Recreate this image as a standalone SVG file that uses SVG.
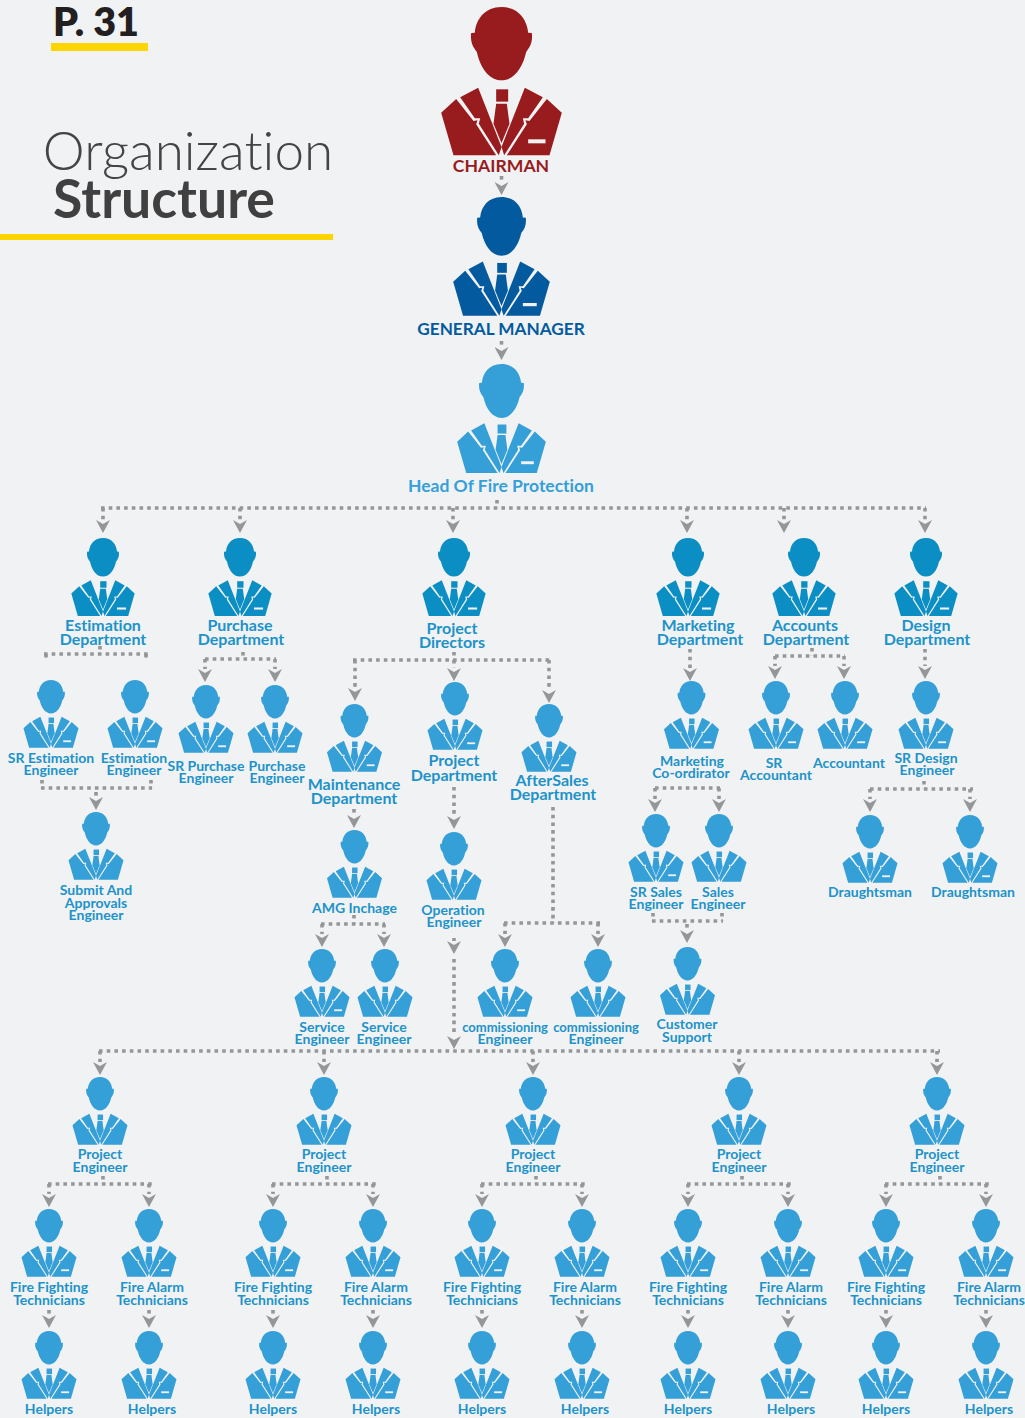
<svg xmlns="http://www.w3.org/2000/svg" width="1025" height="1418" viewBox="0 0 1025 1418">
<style>
text{font-family:"Lato","Liberation Sans",sans-serif;text-anchor:middle;font-weight:700;font-variant-ligatures:none}
.a{fill:#359fd8}.d{fill:#0a8ec3}
.l{fill:#1c93c9;font-size:14px}
.m{fill:#1c93c9;font-size:16px}
.k{font-size:13px}
.c path{fill:none;stroke:#969696;stroke-width:3.6;stroke-dasharray:3.6 4.1;marker-end:url(#ar)}
.c path.n{marker-end:none}
</style>
<defs>
<marker id="ar" markerUnits="userSpaceOnUse" viewBox="-7 0 14 14" refX="0" refY="0" markerWidth="14" markerHeight="14" orient="0"><path d="M-7 0L0 4L7 0L0 13Z" fill="#969696"/></marker>
<g id="q" transform="translate(-244,-20)">
<path d="M244 20C195 20 168 55 164 97L153 98C150 125 158 140 170 155C180 200 205 240 244 240C283 240 308 200 318 155C330 140 338 125 335 98L324 97C320 55 293 20 244 20Z"/>
<path d="M63 337L108 296L160 362L172 360L168 372L228 465L100 465Z"/>
<path d="M425 337L380 296L328 362L316 360L320 372L260 465L388 465Z"/>
<path d="M120 291L174 262L244 440L236 465L176 370L180 354L164 354Z"/>
<path d="M368 291L314 262L244 440L252 465L312 370L308 354L324 354Z"/>
<rect x="228" y="267" width="36" height="37"/>
<path d="M228 310L260 310L268 370L244 428L220 370Z"/>
</g>
<g id="p"><use href="#q"/><rect x="80" y="397" width="52" height="12" fill="#f1f2f4"/></g>
</defs>
<rect width="1025" height="1418" fill="#f1f2f4"/>
<g id="header">
<text x="96" y="36" style="font-size:39.5px;font-weight:800;fill:#231f20">P. 31</text>
<rect x="51" y="43" width="97" height="8" fill="#ffd500"/>
<text x="188" y="170" style="font-size:53px;font-weight:300;fill:#444">Organization</text>
<text x="164" y="218" style="font-size:53.5px;font-weight:700;fill:#404040">Structure</text>
<rect x="0" y="234" width="333" height="6" fill="#ffd500"/>
</g>
<g id="connectors" class="c">
<path d="M501.5 176V182"/><path d="M501.5 341V347"/>
<path class="n" d="M497 500V508"/><path class="n" d="M101 508H926"/>
<path d="M103 508V520"/><path d="M240 508V520"/><path d="M453 508V520"/><path d="M687 508V520"/><path d="M784 508V520"/><path d="M925 508V520"/>
<path class="n" d="M100 646V654"/><path class="n" d="M44 654H148"/><path class="n" d="M46 654V661"/><path class="n" d="M146 654V661"/>
<path class="n" d="M243 652V659"/><path class="n" d="M205 659H276"/><path d="M205 659V669"/><path d="M275 659V669"/>
<path class="n" d="M454 652V660"/><path class="n" d="M353 660H551"/><path d="M355 660V688"/><path d="M454 660V668"/><path d="M549 660V690"/>
<path d="M690 649V668"/>
<path class="n" d="M812 648V656"/><path class="n" d="M775 656H845"/><path d="M775 656V666"/><path d="M844 656V666"/>
<path d="M925 649V666"/>
<path class="n" d="M42 780V788"/><path class="n" d="M151 780V788"/><path class="n" d="M41 788H152"/><path d="M96 792V797"/>
<path class="n" d="M924 781V789"/><path class="n" d="M870 789H973"/><path d="M870 789V799"/><path d="M970 789V799"/>
<path class="n" d="M655 788H720"/><path d="M655 788V799"/><path d="M719 788V799"/>
<path d="M354 809V815"/><path d="M454 787V816"/>
<path class="n" d="M354 915V924"/><path class="n" d="M321 924H385"/><path d="M322 924V934"/><path d="M384 924V934"/>
<path class="n" d="M553 807V923"/><path class="n" d="M504 923H600"/><path d="M505 923V934"/><path d="M598 923V934"/>
<path class="n" d="M653 913V921"/><path class="n" d="M722 913V921"/><path class="n" d="M652 921H723"/><path d="M687 924V930"/>
<path d="M454 938V941"/><path d="M454 959V1036"/>
<path class="n" d="M99 1051H940"/>
<path d="M100 1051V1062"/><path d="M324 1051V1062"/><path d="M533 1051V1062"/><path d="M739 1051V1062"/><path d="M937 1051V1062"/>
<path class="n" d="M103 1176V1184"/><path class="n" d="M48 1184H152"/><path d="M49 1184V1194"/><path d="M149 1184V1194"/>
<path class="n" d="M327 1176V1184"/><path class="n" d="M272 1184H376"/><path d="M273 1184V1194"/><path d="M373 1184V1194"/>
<path class="n" d="M536 1176V1184"/><path class="n" d="M481 1184H585"/><path d="M482 1184V1194"/><path d="M582 1184V1194"/>
<path class="n" d="M742 1176V1184"/><path class="n" d="M687 1184H791"/><path d="M688 1184V1194"/><path d="M788 1184V1194"/>
<path class="n" d="M940 1176V1184"/><path class="n" d="M885 1184H989"/><path d="M886 1184V1194"/><path d="M986 1184V1194"/>
<path d="M49 1310V1315"/><path d="M149 1310V1315"/><path d="M273 1310V1315"/><path d="M373 1310V1315"/><path d="M482 1310V1315"/><path d="M582 1310V1315"/><path d="M688 1310V1315"/><path d="M788 1310V1315"/><path d="M886 1310V1315"/><path d="M986 1310V1315"/>
</g>
<g id="chairman"><use href="#p" transform="translate(501.5,7) scale(.3333)" fill="#981b1e"/><text x="501" y="172" style="font-size:17.6px;fill:#981b1e">CHAIRMAN</text></g>
<g id="general-manager"><use href="#p" transform="translate(501.5,197) scale(.267)" fill="#045a9e"/><text x="501" y="335" style="font-size:17.2px;fill:#045a9e">GENERAL MANAGER</text></g>
<g id="head-fire"><use href="#p" transform="translate(501.5,364) scale(.245)" fill="#359fd8"/><text x="501" y="492" style="font-size:17.5px;fill:#359fd8">Head Of Fire Protection</text></g>

<g id="n-estimation"><use href="#p" class="d" transform="translate(103,538) scale(.175)"/><text class="m" y="631" x="103">Estimation<tspan x="103" y="645">Department</tspan></text></g>
<g id="n-purchase"><use href="#p" class="d" transform="translate(240,538) scale(.175)"/><text class="m" y="631" x="240">Purchase<tspan x="241" y="645">Department</tspan></text></g>
<g id="n-directors"><use href="#p" class="d" transform="translate(454,538) scale(.175)"/><text class="m" y="634" x="452">Project<tspan x="452" y="648">Directors</tspan></text></g>
<g id="n-marketing"><use href="#p" class="d" transform="translate(688,538) scale(.175)"/><text class="m" y="631" x="698">Marketing<tspan x="700" y="645">Department</tspan></text></g>
<g id="n-accounts"><use href="#p" class="d" transform="translate(804,538) scale(.175)"/><text class="m" y="631" x="805">Accounts<tspan x="806" y="645">Department</tspan></text></g>
<g id="n-design"><use href="#p" class="d" transform="translate(926,538) scale(.175)"/><text class="m" y="631" x="926">Design<tspan x="927" y="645">Department</tspan></text></g>

<g id="n-sr-est"><use href="#p" class="a" transform="translate(51,680) scale(.152)"/><text class="l" y="763" x="51">SR Estimation<tspan x="51" y="775">Engineer</tspan></text></g>
<g id="n-est"><use href="#p" class="a" transform="translate(135,680) scale(.152)"/><text class="l" y="763" x="134">Estimation<tspan x="134" y="775">Engineer</tspan></text></g>
<g id="n-submit"><use href="#q" class="a" transform="translate(96,812) scale(.152)"/><text class="l" y="895" x="96">Submit And<tspan x="96" y="908">Approvals</tspan><tspan x="96" y="920">Engineer</tspan></text></g>
<g id="n-sr-pur"><use href="#p" class="a" transform="translate(206,685) scale(.152)"/><text class="l" y="771" x="206">SR Purchase<tspan x="206" y="783">Engineer</tspan></text></g>
<g id="n-pur"><use href="#p" class="a" transform="translate(275,685) scale(.152)"/><text class="l" y="771" x="277">Purchase<tspan x="277" y="783">Engineer</tspan></text></g>
<g id="n-maint"><use href="#p" class="a" transform="translate(354.5,704) scale(.152)"/><text class="m" y="790" x="354">Maintenance<tspan x="354" y="804">Department</tspan></text></g>
<g id="n-projd"><use href="#p" class="a" transform="translate(455,682) scale(.152)"/><text class="m" y="766" x="454">Project<tspan x="454" y="781">Department</tspan></text></g>
<g id="n-after"><use href="#p" class="a" transform="translate(549,704) scale(.152)"/><text class="m" y="786" x="552">AfterSales<tspan x="553" y="800">Department</tspan></text></g>
<g id="n-mco"><use href="#p" class="a" transform="translate(691.5,681) scale(.152)"/><text class="l" y="766" x="692">Marketing<tspan x="691" y="778">Co-ordirator</tspan></text></g>
<g id="n-sracc"><use href="#p" class="a" transform="translate(776,681) scale(.152)"/><text class="l" y="768" x="774">SR<tspan x="776" y="780">Accountant</tspan></text></g>
<g id="n-acc"><use href="#p" class="a" transform="translate(845,681) scale(.152)"/><text class="l" y="768" x="849">Accountant</text></g>
<g id="n-srdes"><use href="#p" class="a" transform="translate(926,681) scale(.152)"/><text class="l" y="763" x="926">SR Design<tspan x="927" y="775">Engineer</tspan></text></g>
<g id="n-srsal"><use href="#p" class="a" transform="translate(656,814) scale(.152)"/><text class="l" y="897" x="656">SR Sales<tspan x="656" y="909">Engineer</tspan></text></g>
<g id="n-sal"><use href="#q" class="a" transform="translate(719,814) scale(.152)"/><text class="l" y="897" x="718">Sales<tspan x="718" y="909">Engineer</tspan></text></g>
<g id="n-dr1"><use href="#p" class="a" transform="translate(870,815) scale(.152)"/><text class="l" y="897" x="870">Draughtsman</text></g>
<g id="n-dr2"><use href="#p" class="a" transform="translate(970,815) scale(.152)"/><text class="l" y="897" x="973">Draughtsman</text></g>
<g id="n-amg"><use href="#q" class="a" transform="translate(354.5,830) scale(.152)"/><text class="l" y="913" x="354.5">AMG Inchage</text></g>
<g id="n-oper"><use href="#q" class="a" transform="translate(454,832) scale(.152)"/><text class="l" y="915" x="453">Operation<tspan x="454" y="927">Engineer</tspan></text></g>
<g id="n-serv1"><use href="#p" class="a" transform="translate(322,949) scale(.152)"/><text class="l" y="1032" x="322">Service<tspan x="322" y="1044">Engineer</tspan></text></g>
<g id="n-serv2"><use href="#q" class="a" transform="translate(385,949) scale(.152)"/><text class="l" y="1032" x="384">Service<tspan x="384" y="1044">Engineer</tspan></text></g>
<g id="n-com1"><use href="#p" class="a" transform="translate(505,949) scale(.152)"/><text class="l" y="1032" x="505"><tspan class="k">commissioning</tspan><tspan x="505" y="1044">Engineer</tspan></text></g>
<g id="n-com2"><use href="#q" class="a" transform="translate(598,949) scale(.152)"/><text class="l" y="1032" x="596"><tspan class="k">commissioning</tspan><tspan x="596" y="1044">Engineer</tspan></text></g>
<g id="n-cust"><use href="#q" class="a" transform="translate(687.5,947) scale(.152)"/><text class="l" y="1029" x="687">Customer<tspan x="687" y="1042">Support</tspan></text></g>

<g id="n-pe1"><use href="#q" class="a" transform="translate(100,1077) scale(.152)"/><text class="l" y="1159" x="100">Project<tspan x="100" y="1172">Engineer</tspan></text></g>
<g id="n-pe2"><use href="#q" class="a" transform="translate(324,1077) scale(.152)"/><text class="l" y="1159" x="324">Project<tspan x="324" y="1172">Engineer</tspan></text></g>
<g id="n-pe3"><use href="#q" class="a" transform="translate(533,1077) scale(.152)"/><text class="l" y="1159" x="533">Project<tspan x="533" y="1172">Engineer</tspan></text></g>
<g id="n-pe4"><use href="#q" class="a" transform="translate(739,1077) scale(.152)"/><text class="l" y="1159" x="739">Project<tspan x="739" y="1172">Engineer</tspan></text></g>
<g id="n-pe5"><use href="#q" class="a" transform="translate(937,1077) scale(.152)"/><text class="l" y="1159" x="937">Project<tspan x="937" y="1172">Engineer</tspan></text></g>

<g id="n-ff1"><use href="#p" class="a" transform="translate(49,1209) scale(.152)"/><text class="l" y="1292" x="49">Fire Fighting<tspan x="49" y="1305">Technicians</tspan></text></g>
<g id="n-fa1"><use href="#p" class="a" transform="translate(149,1209) scale(.152)"/><text class="l" y="1292" x="152">Fire Alarm<tspan x="152" y="1305">Technicians</tspan></text></g>
<g id="n-h1"><use href="#p" class="a" transform="translate(49,1331) scale(.152)"/><text class="l" y="1414" x="49">Helpers</text></g>
<g id="n-h2"><use href="#p" class="a" transform="translate(149,1331) scale(.152)"/><text class="l" y="1414" x="152">Helpers</text></g>
<g id="n-ff2"><use href="#p" class="a" transform="translate(273,1209) scale(.152)"/><text class="l" y="1292" x="273">Fire Fighting<tspan x="273" y="1305">Technicians</tspan></text></g>
<g id="n-fa2"><use href="#p" class="a" transform="translate(373,1209) scale(.152)"/><text class="l" y="1292" x="376">Fire Alarm<tspan x="376" y="1305">Technicians</tspan></text></g>
<g id="n-h3"><use href="#p" class="a" transform="translate(273,1331) scale(.152)"/><text class="l" y="1414" x="273">Helpers</text></g>
<g id="n-h4"><use href="#p" class="a" transform="translate(373,1331) scale(.152)"/><text class="l" y="1414" x="376">Helpers</text></g>
<g id="n-ff3"><use href="#p" class="a" transform="translate(482,1209) scale(.152)"/><text class="l" y="1292" x="482">Fire Fighting<tspan x="482" y="1305">Technicians</tspan></text></g>
<g id="n-fa3"><use href="#p" class="a" transform="translate(582,1209) scale(.152)"/><text class="l" y="1292" x="585">Fire Alarm<tspan x="585" y="1305">Technicians</tspan></text></g>
<g id="n-h5"><use href="#p" class="a" transform="translate(482,1331) scale(.152)"/><text class="l" y="1414" x="482">Helpers</text></g>
<g id="n-h6"><use href="#p" class="a" transform="translate(582,1331) scale(.152)"/><text class="l" y="1414" x="585">Helpers</text></g>
<g id="n-ff4"><use href="#p" class="a" transform="translate(688,1209) scale(.152)"/><text class="l" y="1292" x="688">Fire Fighting<tspan x="688" y="1305">Technicians</tspan></text></g>
<g id="n-fa4"><use href="#p" class="a" transform="translate(788,1209) scale(.152)"/><text class="l" y="1292" x="791">Fire Alarm<tspan x="791" y="1305">Technicians</tspan></text></g>
<g id="n-h7"><use href="#p" class="a" transform="translate(688,1331) scale(.152)"/><text class="l" y="1414" x="688">Helpers</text></g>
<g id="n-h8"><use href="#p" class="a" transform="translate(788,1331) scale(.152)"/><text class="l" y="1414" x="791">Helpers</text></g>
<g id="n-ff5"><use href="#p" class="a" transform="translate(886,1209) scale(.152)"/><text class="l" y="1292" x="886">Fire Fighting<tspan x="886" y="1305">Technicians</tspan></text></g>
<g id="n-fa5"><use href="#p" class="a" transform="translate(986,1209) scale(.152)"/><text class="l" y="1292" x="989">Fire Alarm<tspan x="989" y="1305">Technicians</tspan></text></g>
<g id="n-h9"><use href="#p" class="a" transform="translate(886,1331) scale(.152)"/><text class="l" y="1414" x="886">Helpers</text></g>
<g id="n-h10"><use href="#p" class="a" transform="translate(986,1331) scale(.152)"/><text class="l" y="1414" x="989">Helpers</text></g>
</svg>
